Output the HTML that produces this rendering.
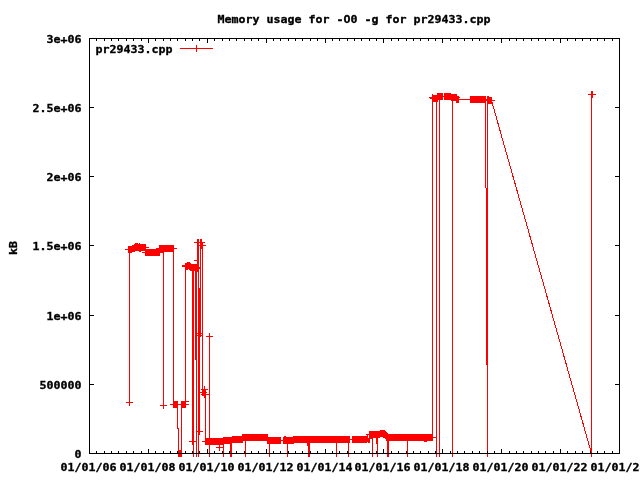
<!DOCTYPE html>
<html><head><meta charset="utf-8"><title>Memory usage for -O0 -g for pr29433.cpp</title>
<style>
html,body{margin:0;padding:0;background:#fff;overflow:hidden}
svg{display:block}
text{font-family:"DejaVu Sans Mono", "Liberation Mono", monospace;font-weight:bold;font-size:11.63px;fill:#000;stroke:#000;stroke-width:0.35px}
</style></head><body>
<svg width="640" height="480" viewBox="0 0 640 480">
<rect width="640" height="480" fill="#fff"/>
<g shape-rendering="crispEdges">
<line x1="491.5" y1="100.5" x2="591.5" y2="453.5" stroke="#f00" stroke-width="1"/>
<path fill="#f00" d="M126 402h7v1h-7zM129 399h1v7h-1zM129 249h1v154h-1zM128 246h4v7h-4zM125 249h3v1h-3zM132 245h2v7h-2zM134 244h1v8h-1zM135 243h3v8h-3zM138 244h1v7h-1zM139 243h1v9h-1zM140 244h1v8h-1zM141 244h5v7h-5zM146 247h3v1h-3zM145 249h15v7h-15zM142 252h3v1h-3zM159 245h15v7h-15zM160 252h4v1h-4zM156 248h3v1h-3zM174 248h3v1h-3zM163 249h1v157h-1zM160 405h7v1h-7zM163 402h1v7h-1zM173 249h1v156h-1zM173 401h5v7h-5zM170 404h4v1h-4zM177 404h1v25h-1zM178 428h1v26h-1zM178 450h4v7h-4zM181 404h1v50h-1zM181 401h5v7h-5zM185 401h4v1h-4zM185 404h4v1h-4zM182 265h3v1h-3zM182 266h3v1h-3zM185 263h1v142h-1zM186 263h1v7h-1zM187 262h1v8h-1zM188 262h1v7h-1zM189 262h1v8h-1zM190 263h1v8h-1zM191 264h1v7h-1zM194 264h1v7h-1zM192 264h7v5h-7zM199 267h1v2h-1zM192 264h1v181h-1zM193 264h1v193h-1zM195 264h1v96h-1zM196 264h1v193h-1zM197 239h1v33h-1zM198 239h1v218h-1zM199 288h1v147h-1zM200 239h1v98h-1zM201 239h1v10h-1zM202 242h1v151h-1zM194 242h7v1h-7zM197 239h1v7h-1zM198 242h7v1h-7zM201 239h1v7h-1zM199 245h7v1h-7zM194 260h5v1h-5zM196 333h7v1h-7zM196 335h7v1h-7zM198 333h3v4h-3zM206 336h7v1h-7zM209 333h1v7h-1zM209 336h1v121h-1zM202 390h4v6h-4zM204 386h1v12h-1zM201 389h7v1h-7zM200 392h7v1h-7zM201 394h9v1h-9zM205 392h1v50h-1zM189 441h7v1h-7zM192 438h1v7h-1zM196 431h7v1h-7zM199 428h1v7h-1zM177 404h5v1h-5zM205 438h18v7h-18zM202 441h4v1h-4zM223 437h9v7h-9zM232 436h11v7h-11zM242 434h26v7h-26zM267 437h14v7h-14zM281 440h3v1h-3zM283 437h11v7h-11zM284 436h2v1h-2zM293 436h57v7h-57zM350 439h3v1h-3zM352 436h15v7h-15zM366 434h4v1h-4zM367 435h1v7h-1zM366 439h3v1h-3zM368 438h2v5h-2zM370 438h2v1h-2zM369 431h11v7h-11zM380 430h5v7h-5zM383 437h2v1h-2zM385 431h1v8h-1zM386 432h1v9h-1zM387 433h1v8h-1zM376 438h1v6h-1zM388 434h45v7h-45zM424 440h3v2h-3zM433 437h4v1h-4zM216 447h7v1h-7zM219 444h1v7h-1zM307 443h1v3h-1zM223 441h1v16h-1zM220 453h7v1h-7zM230 440h1v17h-1zM227 453h7v1h-7zM231 440h1v17h-1zM228 453h7v1h-7zM245 437h1v20h-1zM242 453h7v1h-7zM269 440h1v17h-1zM266 453h7v1h-7zM287 440h1v17h-1zM284 453h7v1h-7zM308 439h1v18h-1zM305 453h7v1h-7zM309 439h1v18h-1zM306 453h7v1h-7zM336 439h1v18h-1zM333 453h7v1h-7zM348 439h1v18h-1zM345 453h7v1h-7zM372 434h1v23h-1zM369 453h7v1h-7zM377 434h1v23h-1zM374 453h7v1h-7zM387 434h1v23h-1zM384 453h7v1h-7zM388 437h1v20h-1zM385 453h7v1h-7zM407 437h1v20h-1zM404 453h7v1h-7zM432 98h1v340h-1zM436 97h1v360h-1zM439 96h1v361h-1zM452 97h1v360h-1zM433 453h7v1h-7zM436 453h7v1h-7zM449 453h7v1h-7zM484 453h7v1h-7zM429 97h4v1h-4zM430 98h2v1h-2zM432 95h6v7h-6zM432 94h1v2h-1zM437 93h6v7h-6zM444 93h7v7h-7zM442 96h3v1h-3zM451 94h6v7h-6zM456 96h3v7h-3zM458 99h3v1h-3zM459 97h1v1h-1zM459 99h12v1h-12zM470 96h16v7h-16zM487 96h2v8h-2zM489 97h3v7h-3zM486 99h1v2h-1zM491 100h4v1h-4zM485 99h1v89h-1zM486 188h1v177h-1zM487 99h1v358h-1zM591 94h1v363h-1zM589 94h7v1h-7zM592 91h1v7h-1zM588 94h7v1h-7zM591 91h1v7h-1zM180 48h33v1h-33zM196 45h1v7h-1z"/>
<path fill="#000" d="M89 38h531v1h-531zM89 453h531v1h-531zM89 38h1v416h-1zM619 38h1v416h-1zM89 449h1v5h-1zM89 38h1v5h-1zM96 451h1v3h-1zM96 38h1v3h-1zM104 451h1v3h-1zM104 38h1v3h-1zM111 451h1v3h-1zM111 38h1v3h-1zM118 451h1v3h-1zM118 38h1v3h-1zM126 451h1v3h-1zM126 38h1v3h-1zM133 451h1v3h-1zM133 38h1v3h-1zM141 451h1v3h-1zM141 38h1v3h-1zM148 449h1v5h-1zM148 38h1v5h-1zM155 451h1v3h-1zM155 38h1v3h-1zM163 451h1v3h-1zM163 38h1v3h-1zM170 451h1v3h-1zM170 38h1v3h-1zM177 451h1v3h-1zM177 38h1v3h-1zM185 451h1v3h-1zM185 38h1v3h-1zM192 451h1v3h-1zM192 38h1v3h-1zM199 451h1v3h-1zM199 38h1v3h-1zM207 449h1v5h-1zM207 38h1v5h-1zM214 451h1v3h-1zM214 38h1v3h-1zM222 451h1v3h-1zM222 38h1v3h-1zM229 451h1v3h-1zM229 38h1v3h-1zM236 451h1v3h-1zM236 38h1v3h-1zM244 451h1v3h-1zM244 38h1v3h-1zM251 451h1v3h-1zM251 38h1v3h-1zM258 451h1v3h-1zM258 38h1v3h-1zM266 449h1v5h-1zM266 38h1v5h-1zM273 451h1v3h-1zM273 38h1v3h-1zM280 451h1v3h-1zM280 38h1v3h-1zM288 451h1v3h-1zM288 38h1v3h-1zM295 451h1v3h-1zM295 38h1v3h-1zM302 451h1v3h-1zM302 38h1v3h-1zM310 451h1v3h-1zM310 38h1v3h-1zM317 451h1v3h-1zM317 38h1v3h-1zM325 449h1v5h-1zM325 38h1v5h-1zM332 451h1v3h-1zM332 38h1v3h-1zM339 451h1v3h-1zM339 38h1v3h-1zM347 451h1v3h-1zM347 38h1v3h-1zM354 451h1v3h-1zM354 38h1v3h-1zM361 451h1v3h-1zM361 38h1v3h-1zM369 451h1v3h-1zM369 38h1v3h-1zM376 451h1v3h-1zM376 38h1v3h-1zM383 449h1v5h-1zM383 38h1v5h-1zM391 451h1v3h-1zM391 38h1v3h-1zM398 451h1v3h-1zM398 38h1v3h-1zM406 451h1v3h-1zM406 38h1v3h-1zM413 451h1v3h-1zM413 38h1v3h-1zM420 451h1v3h-1zM420 38h1v3h-1zM428 451h1v3h-1zM428 38h1v3h-1zM435 451h1v3h-1zM435 38h1v3h-1zM442 449h1v5h-1zM442 38h1v5h-1zM450 451h1v3h-1zM450 38h1v3h-1zM457 451h1v3h-1zM457 38h1v3h-1zM464 451h1v3h-1zM464 38h1v3h-1zM472 451h1v3h-1zM472 38h1v3h-1zM479 451h1v3h-1zM479 38h1v3h-1zM487 451h1v3h-1zM487 38h1v3h-1zM494 451h1v3h-1zM494 38h1v3h-1zM501 449h1v5h-1zM501 38h1v5h-1zM509 451h1v3h-1zM509 38h1v3h-1zM516 451h1v3h-1zM516 38h1v3h-1zM523 451h1v3h-1zM523 38h1v3h-1zM531 451h1v3h-1zM531 38h1v3h-1zM538 451h1v3h-1zM538 38h1v3h-1zM545 451h1v3h-1zM545 38h1v3h-1zM553 451h1v3h-1zM553 38h1v3h-1zM560 449h1v5h-1zM560 38h1v5h-1zM567 451h1v3h-1zM567 38h1v3h-1zM575 451h1v3h-1zM575 38h1v3h-1zM582 451h1v3h-1zM582 38h1v3h-1zM590 451h1v3h-1zM590 38h1v3h-1zM597 451h1v3h-1zM597 38h1v3h-1zM604 451h1v3h-1zM604 38h1v3h-1zM612 451h1v3h-1zM612 38h1v3h-1zM619 449h1v5h-1zM619 38h1v5h-1zM89 38h5v1h-5zM615 38h5v1h-5zM89 107h5v1h-5zM615 107h5v1h-5zM89 176h5v1h-5zM615 176h5v1h-5zM89 245h5v1h-5zM615 245h5v1h-5zM89 315h5v1h-5zM615 315h5v1h-5zM89 384h5v1h-5zM615 384h5v1h-5zM89 453h5v1h-5zM615 453h5v1h-5z"/>
</g>
<g>
<text transform="translate(354.0 23) scale(1 0.95)" text-anchor="middle" textLength="273" lengthAdjust="spacing">Memory usage for -O0 -g for pr29433.cpp</text>
<text transform="translate(81.5 43) scale(1 0.95)" text-anchor="end" textLength="35" lengthAdjust="spacing">3e+06</text>
<text transform="translate(81.5 112) scale(1 0.95)" text-anchor="end" textLength="49" lengthAdjust="spacing">2.5e+06</text>
<text transform="translate(81.5 181) scale(1 0.95)" text-anchor="end" textLength="35" lengthAdjust="spacing">2e+06</text>
<text transform="translate(81.5 250) scale(1 0.95)" text-anchor="end" textLength="49" lengthAdjust="spacing">1.5e+06</text>
<text transform="translate(81.5 320) scale(1 0.95)" text-anchor="end" textLength="35" lengthAdjust="spacing">1e+06</text>
<text transform="translate(81.5 389) scale(1 0.95)" text-anchor="end" textLength="42" lengthAdjust="spacing">500000</text>
<text transform="translate(81.5 458) scale(1 0.95)" text-anchor="end" textLength="7" lengthAdjust="spacing">0</text>
<text transform="translate(88.5 471) scale(1 0.95)" text-anchor="middle" textLength="56" lengthAdjust="spacing">01/01/06</text>
<text transform="translate(147.5 471) scale(1 0.95)" text-anchor="middle" textLength="56" lengthAdjust="spacing">01/01/08</text>
<text transform="translate(206.5 471) scale(1 0.95)" text-anchor="middle" textLength="56" lengthAdjust="spacing">01/01/10</text>
<text transform="translate(265.5 471) scale(1 0.95)" text-anchor="middle" textLength="56" lengthAdjust="spacing">01/01/12</text>
<text transform="translate(324.5 471) scale(1 0.95)" text-anchor="middle" textLength="56" lengthAdjust="spacing">01/01/14</text>
<text transform="translate(382.5 471) scale(1 0.95)" text-anchor="middle" textLength="56" lengthAdjust="spacing">01/01/16</text>
<text transform="translate(441.5 471) scale(1 0.95)" text-anchor="middle" textLength="56" lengthAdjust="spacing">01/01/18</text>
<text transform="translate(500.5 471) scale(1 0.95)" text-anchor="middle" textLength="56" lengthAdjust="spacing">01/01/20</text>
<text transform="translate(559.5 471) scale(1 0.95)" text-anchor="middle" textLength="56" lengthAdjust="spacing">01/01/22</text>
<text transform="translate(618.5 471) scale(1 0.95)" text-anchor="middle" textLength="56" lengthAdjust="spacing">01/01/24</text>
<text transform="translate(95.5 53) scale(1 0.95)" text-anchor="start" textLength="77" lengthAdjust="spacing">pr29433.cpp</text>
<text transform="translate(16.5,248) rotate(-90) scale(1 0.95)" text-anchor="middle" textLength="14" lengthAdjust="spacing">kB</text>
</g>
</svg>
</body></html>
